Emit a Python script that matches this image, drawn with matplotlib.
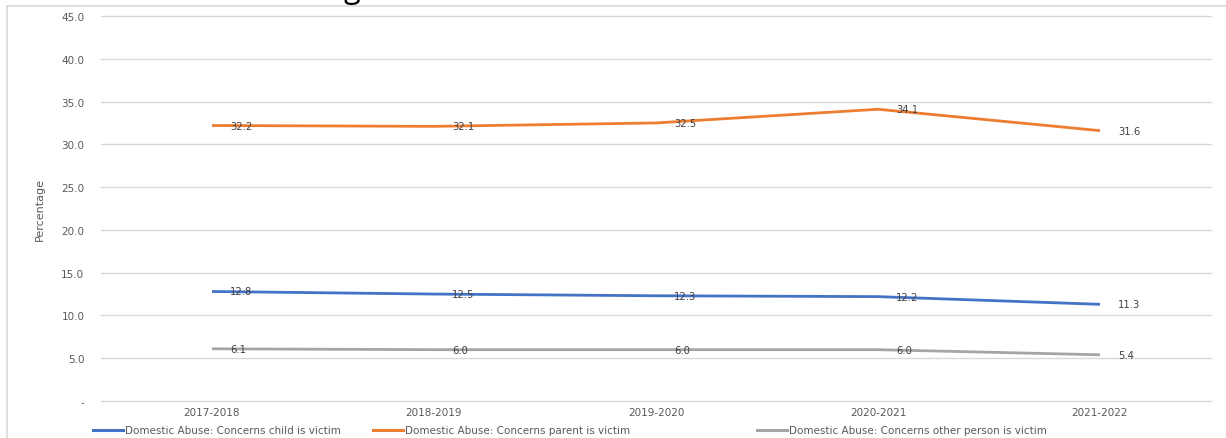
import matplotlib
matplotlib.use("Agg")
import matplotlib.pyplot as plt
from matplotlib.lines import Line2D
from matplotlib.ticker import FixedLocator, FuncFormatter

years = ["2017-2018", "2018-2019", "2019-2020", "2020-2021", "2021-2022"]
child_victim = [12.8, 12.5, 12.3, 12.2, 11.3]
parent_victim = [32.2, 32.1, 32.5, 34.1, 31.6]
other_victim = [6.1, 6.0, 6.0, 6.0, 5.4]

series_names = [
    "Domestic Abuse: Concerns child is victim",
    "Domestic Abuse: Concerns parent is victim",
    "Domestic Abuse: Concerns other person is victim",
]
series_values = [child_victim, parent_victim, other_victim]
colors = ["#4472C4", "#ED7D31", "#A5A5A5"]
y_ticks = [0, 5, 10, 15, 20, 25, 30, 35, 40, 45]

W, H = 1226, 439
fig = plt.figure(figsize=(W / 100, H / 100), dpi=100)
fig.patch.set_facecolor("white")

ax = fig.add_axes([101 / W, 1 - 402 / H, (1211 - 101) / W, (402 - 17) / H])
ax.set_xlim(-0.5, len(years) - 0.5)
ax.set_ylim(0, 45)

font = "DejaVu Sans"
x = list(range(len(years)))
for vals, col in zip(series_values, colors):
    ax.plot(x, vals, color=col, lw=2.0, solid_capstyle="butt", zorder=3)
    for xi, v in zip(x, vals):
        ax.annotate(f"{v:.1f}", (xi, v), xytext=(13, 0), textcoords="offset points",
                    ha="left", va="center", fontsize=7.2, color="#404040",
                    family=font, zorder=4)

ax.yaxis.set_major_locator(FixedLocator(y_ticks))
ax.yaxis.set_major_formatter(FuncFormatter(lambda v, p: "-" if v == 0 else f"{v:.1f}"))
ax.grid(axis="y", color="#D9D9D9", lw=1.0)
for gl in ax.get_ygridlines():
    gl.set_clip_on(False)
ax.set_axisbelow(True)
ax.set_xticks(x)
ax.set_xticklabels(years)
ax.tick_params(axis="both", length=0, labelsize=7.5, labelcolor="#595959")
ax.tick_params(axis="y", pad=12)
ax.tick_params(axis="x", pad=4)
for lab in ax.get_xticklabels() + ax.get_yticklabels():
    lab.set_family(font)
for s in ax.spines.values():
    s.set_visible(False)

fig.text(40 / W, 1 - 210 / H, "Percentage", rotation=90, ha="center", va="center",
         fontsize=8, color="#595959", family=["Liberation Sans Narrow", "DejaVu Sans"])

# outer frame edges
fig.add_artist(Line2D([7 / W, 1], [1 - 7 / H, 1 - 7 / H], color="#D9D9D9", lw=1.2,
                      transform=fig.transFigure))
fig.add_artist(Line2D([7 / W, 7 / W], [0, 1 - 7 / H], color="#D9D9D9", lw=1.2,
                      transform=fig.transFigure))

# partially visible title glyph above the frame
fig.text(352 / W, 1 + 2 / H, "g", ha="center", va="baseline", fontsize=22,
         color="black", family=["Open Sans", "DejaVu Sans"])

# legend row
legend_x = [93, 373, 757]
ly = 1 - 431 / H
for lx, col, name in zip(legend_x, colors, series_names):
    fig.add_artist(Line2D([lx / W, (lx + 30) / W], [ly, ly], color=col, lw=2.2,
                          transform=fig.transFigure))
    fig.text((lx + 32) / W, ly, name, ha="left", va="center", fontsize=7.5,
             color="#595959", family=font)

fig.savefig("out.png", dpi=100, facecolor="white")
